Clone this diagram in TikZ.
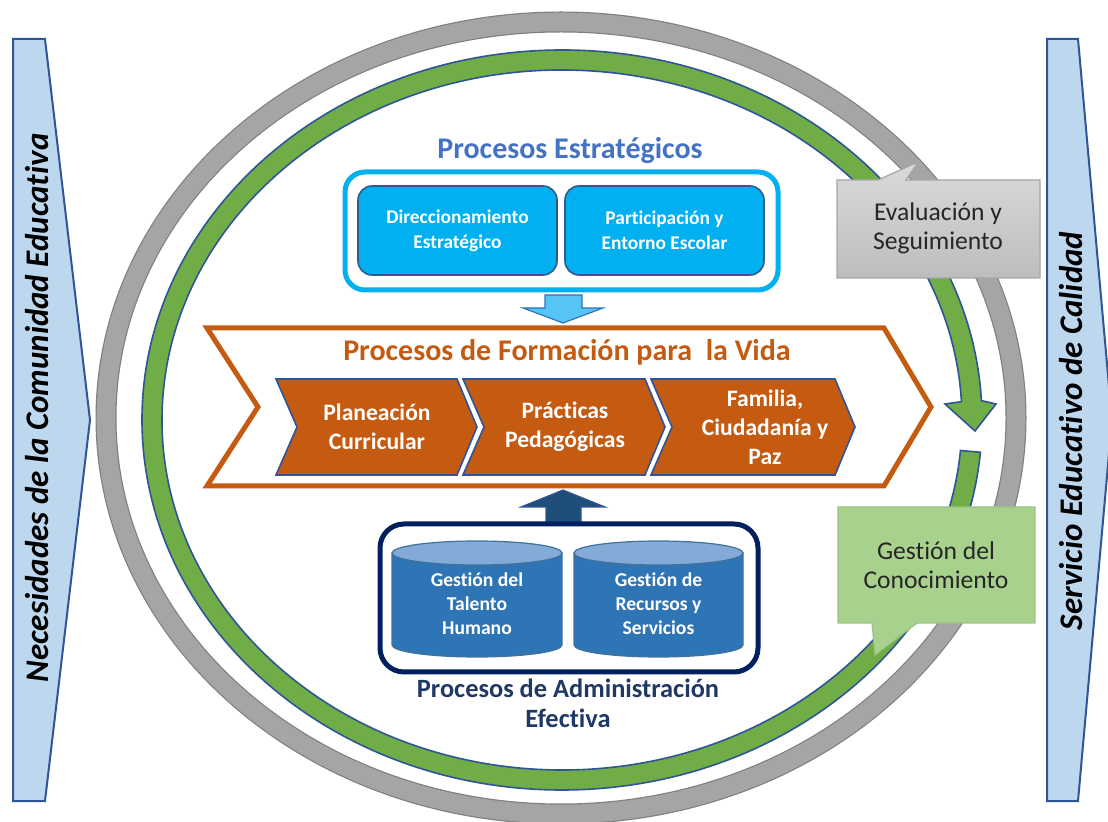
\documentclass[tikz,border=0pt]{standalone}
\usepackage{fontspec}
\setmainfont{Carlito}[Ligatures=NoCommon]
\definecolor{sideblue}{HTML}{BDD7EE}
\definecolor{edgeblue}{HTML}{2F5597}
\definecolor{ringgray}{HTML}{A5A5A5}
\definecolor{ringedge}{HTML}{7F7F7F}
\definecolor{ringgreen}{HTML}{70AD47}
\definecolor{stratcyan}{HTML}{00B0F0}
\definecolor{stratblue}{HTML}{4472C4}
\definecolor{itemedge}{HTML}{2E5C8A}
\definecolor{formorange}{HTML}{C55A11}
\definecolor{adminnavy}{HTML}{002060}
\definecolor{admintext}{HTML}{1F3864}
\definecolor{cylblue}{HTML}{2E75B6}
\definecolor{cyltop}{HTML}{84ABD8}
\definecolor{cyledge}{HTML}{41719C}
\definecolor{downfill}{HTML}{56C5F5}
\definecolor{upfill}{HTML}{1F4E79}
\definecolor{callgraytop}{HTML}{DADADA}
\definecolor{callgraybot}{HTML}{BDBDBD}
\definecolor{calledge}{HTML}{A6A6A6}
\definecolor{callgreen}{HTML}{A9D18E}
\definecolor{callgreenedge}{HTML}{9CC47F}
\definecolor{calltext}{HTML}{262626}
\begin{document}
\begin{tikzpicture}[x=0.5pt,y=-0.5pt,
	sidearrow/.style={fill=sideblue,draw=edgeblue,line width=1pt,line join=miter},
	sidetext/.style={font=\fontsize{16.5}{19}\selectfont\bfseries\itshape,rotate=90},
	title/.style={font=\fontsize{15}{15}\selectfont\bfseries,align=center},
	stratitem/.style={draw=itemedge,fill=stratcyan,rounded corners=7pt,line width=0.8pt,minimum width=99.5pt,minimum height=44.5pt,text=white,align=center,font=\fontsize{9.7}{12.5}\selectfont\bfseries},
	chev/.style={fill=formorange,draw=edgeblue,line width=0.8pt},
	chevtext/.style={text=white,align=center,font=\fontsize{11.8}{14.5}\selectfont\bfseries},
	cyl/.style={fill=cylblue,draw=cyledge,line width=0.6pt},
	cyltext/.style={text=white,align=center,font=\fontsize{9.8}{12}\selectfont\bfseries},
	callout/.style={align=center,font=\fontsize{12.8}{14.5}\selectfont,text=calltext}]
	\useasboundingbox[fill=white] (0,0) rectangle (1108,822);
	% side arrows
	\draw[sidearrow] (13,39)--(45,39)--(90,420)--(45,801)--(13,801)--cycle;
	\draw[sidearrow] (1047,39)--(1078,39)--(1112,420)--(1078,801)--(1047,801)--cycle;
	\node[sidetext] (necesidades) at (37,408) {Necesidades de la Comunidad Educativa};
	\node[sidetext] (servicio) at (1071,431) {Servicio Educativo de Calidad};
	% rings
	\draw[ringedge,line width=10.5pt] (561,418) ellipse[x radius=455,y radius=396];
	\draw[ringgray,line width=9.3pt] (561,418) ellipse[x radius=455,y radius=396];
	\filldraw[fill=ringgreen,draw=edgeblue,line width=0.8pt]
		([shift={(562,420)}]5:400 and 350) arc[start angle=5,end angle=357,x radius=400,y radius=350]
		--(945,404)--(975,431)--(996,404)
		--([shift={(562,420)}]357:420 and 370) arc[start angle=357,end angle=5,x radius=420,y radius=370]
		--cycle;
	% estrategicos
	\node[draw=stratcyan,fill=white,line width=2.5pt,rounded corners=10pt,minimum width=216.5pt,minimum height=59pt] (stratbox) at (561.5,231) {};
	\node[stratitem] (direccion) at (457.5,230.5) {Direccionamiento\\Estratégico};
	\node[stratitem] (participacion) at (664.5,230.5) {Participación y\\Entorno Escolar};
	\node[title,text=stratblue] (strattitle) at (570,151) {Procesos Estratégicos};
	\draw[fill=downfill,draw=cylblue,line width=0.6pt] (545,295)--(582,295)--(582,308)--(603,308)--(563,323)--(523,308)--(545,308)--cycle;
	% formacion
	\draw[draw=formorange,fill=white,line width=2.5pt] (207,328)--(884,328)--(931,407)--(884,486)--(207,486)--(258,407)--cycle;
	\node[title,text=formorange] (formtitle) at (567,352) {Procesos de Formación para\ \ la Vida};
	\draw[chev] (276,379)--(457,379)--(477,427)--(457,475)--(276,475)--(297,427)--cycle;
	\draw[chev] (463,379)--(645,379)--(665,427)--(645,475)--(463,475)--(484,427)--cycle;
	\draw[chev] (651,379)--(835,379)--(855,427)--(835,475)--(651,475)--(672,427)--cycle;
	\node[chevtext] (planeacion) at (377,427) {Planeación\\Curricular};
	\node[chevtext] (practicas) at (565,427) {Prácticas\\Pedagógicas};
	\node[chevtext] (familia) at (765,427) {Familia,\\Ciudadanía y\\Paz};
	% administracion
	\draw[fill=upfill,draw=edgeblue,line width=0.6pt] (546,522)--(581,522)--(581,507)--(605,507)--(563,490)--(521,507)--(546,507)--cycle;
	\node[draw=adminnavy,fill=white,line width=2.5pt,rounded corners=12pt,minimum width=189pt,minimum height=74pt] (adminbox) at (569,598) {};
	\draw[cyl] (392,553)--(392,645) arc[start angle=180,end angle=0,x radius=85,y radius=12]--(562,553)--cycle;
	\draw[cyl,fill=cyltop] (477,553) ellipse[x radius=85,y radius=12];
	\draw[cyl] (574,553)--(574,645) arc[start angle=180,end angle=0,x radius=84.5,y radius=12]--(743,553)--cycle;
	\draw[cyl,fill=cyltop] (658.5,553) ellipse[x radius=84.5,y radius=12];
	\node[cyltext] (talento) at (477,604) {Gestión del\\Talento\\Humano};
	\node[cyltext] (recursos) at (658.5,604) {Gestión de\\Recursos y\\Servicios};
	\node[title,text=admintext,font=\fontsize{13.2}{15}\selectfont\bfseries] (admintitle) at (568,703) {Procesos de Administración\\Efectiva};
	% callouts
	\shade[top color=callgraytop,bottom color=callgraybot,draw=calledge,line width=0.6pt] (837,180)--(878,180)--(918,162)--(906,180)--(1040,180)--(1040,278)--(837,278)--cycle;
	\node[callout] (evaluacion) at (938,228) {Evaluación y\\Seguimiento};
	\draw[fill=callgreen,draw=callgreenedge,line width=0.6pt] (838,507)--(1035,507)--(1035,623)--(917,623)--(875,655)--(872,623)--(838,623)--cycle;
	\node[callout] (conocimiento) at (936,565) {Gestión del\\Conocimiento};
\end{tikzpicture}
\end{document}
